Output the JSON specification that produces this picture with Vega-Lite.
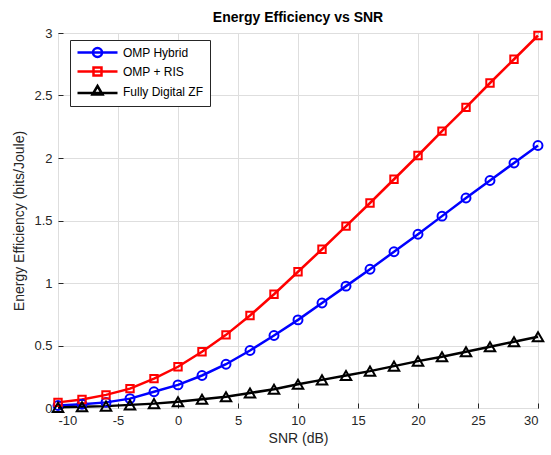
{
  "$schema": "https://vega.github.io/schema/vega-lite/v6.json",
  "width": 480,
  "height": 375,
  "autosize": "none",
  "padding": {"left": 58, "top": 33, "right": 13, "bottom": 47},
  "background": "white",
  "config": {
    "font": "Liberation Sans",
    "view": {"stroke": "#262626", "strokeWidth": 1}
  },
  "title": {"text": "Energy Efficiency vs SNR", "fontSize": 14, "fontWeight": "bold", "font": "Liberation Sans", "color": "#000000", "anchor": "middle", "offset": 2},
  "data": {"values": [
    {"snr": -10, "ee": 0.02, "method": "OMP Hybrid"},
    {"snr": -8, "ee": 0.03, "method": "OMP Hybrid"},
    {"snr": -6, "ee": 0.045, "method": "OMP Hybrid"},
    {"snr": -4, "ee": 0.075, "method": "OMP Hybrid"},
    {"snr": -2, "ee": 0.13, "method": "OMP Hybrid"},
    {"snr": 0, "ee": 0.185, "method": "OMP Hybrid"},
    {"snr": 2, "ee": 0.26, "method": "OMP Hybrid"},
    {"snr": 4, "ee": 0.35, "method": "OMP Hybrid"},
    {"snr": 6, "ee": 0.46, "method": "OMP Hybrid"},
    {"snr": 8, "ee": 0.58, "method": "OMP Hybrid"},
    {"snr": 10, "ee": 0.705, "method": "OMP Hybrid"},
    {"snr": 12, "ee": 0.84, "method": "OMP Hybrid"},
    {"snr": 14, "ee": 0.975, "method": "OMP Hybrid"},
    {"snr": 16, "ee": 1.11, "method": "OMP Hybrid"},
    {"snr": 18, "ee": 1.25, "method": "OMP Hybrid"},
    {"snr": 20, "ee": 1.39, "method": "OMP Hybrid"},
    {"snr": 22, "ee": 1.535, "method": "OMP Hybrid"},
    {"snr": 24, "ee": 1.68, "method": "OMP Hybrid"},
    {"snr": 26, "ee": 1.82, "method": "OMP Hybrid"},
    {"snr": 28, "ee": 1.96, "method": "OMP Hybrid"},
    {"snr": 30, "ee": 2.1, "method": "OMP Hybrid"},
    {"snr": -10, "ee": 0.045, "method": "OMP + RIS"},
    {"snr": -8, "ee": 0.068, "method": "OMP + RIS"},
    {"snr": -6, "ee": 0.105, "method": "OMP + RIS"},
    {"snr": -4, "ee": 0.155, "method": "OMP + RIS"},
    {"snr": -2, "ee": 0.235, "method": "OMP + RIS"},
    {"snr": 0, "ee": 0.33, "method": "OMP + RIS"},
    {"snr": 2, "ee": 0.45, "method": "OMP + RIS"},
    {"snr": 4, "ee": 0.585, "method": "OMP + RIS"},
    {"snr": 6, "ee": 0.74, "method": "OMP + RIS"},
    {"snr": 8, "ee": 0.91, "method": "OMP + RIS"},
    {"snr": 10, "ee": 1.09, "method": "OMP + RIS"},
    {"snr": 12, "ee": 1.27, "method": "OMP + RIS"},
    {"snr": 14, "ee": 1.455, "method": "OMP + RIS"},
    {"snr": 16, "ee": 1.64, "method": "OMP + RIS"},
    {"snr": 18, "ee": 1.83, "method": "OMP + RIS"},
    {"snr": 20, "ee": 2.02, "method": "OMP + RIS"},
    {"snr": 22, "ee": 2.215, "method": "OMP + RIS"},
    {"snr": 24, "ee": 2.405, "method": "OMP + RIS"},
    {"snr": 26, "ee": 2.6, "method": "OMP + RIS"},
    {"snr": 28, "ee": 2.79, "method": "OMP + RIS"},
    {"snr": 30, "ee": 2.98, "method": "OMP + RIS"},
    {"snr": -10, "ee": 0.005, "method": "Fully Digital ZF"},
    {"snr": -8, "ee": 0.01, "method": "Fully Digital ZF"},
    {"snr": -6, "ee": 0.015, "method": "Fully Digital ZF"},
    {"snr": -4, "ee": 0.025, "method": "Fully Digital ZF"},
    {"snr": -2, "ee": 0.035, "method": "Fully Digital ZF"},
    {"snr": 0, "ee": 0.05, "method": "Fully Digital ZF"},
    {"snr": 2, "ee": 0.07, "method": "Fully Digital ZF"},
    {"snr": 4, "ee": 0.09, "method": "Fully Digital ZF"},
    {"snr": 6, "ee": 0.12, "method": "Fully Digital ZF"},
    {"snr": 8, "ee": 0.15, "method": "Fully Digital ZF"},
    {"snr": 10, "ee": 0.19, "method": "Fully Digital ZF"},
    {"snr": 12, "ee": 0.225, "method": "Fully Digital ZF"},
    {"snr": 14, "ee": 0.26, "method": "Fully Digital ZF"},
    {"snr": 16, "ee": 0.295, "method": "Fully Digital ZF"},
    {"snr": 18, "ee": 0.335, "method": "Fully Digital ZF"},
    {"snr": 20, "ee": 0.375, "method": "Fully Digital ZF"},
    {"snr": 22, "ee": 0.41, "method": "Fully Digital ZF"},
    {"snr": 24, "ee": 0.45, "method": "Fully Digital ZF"},
    {"snr": 26, "ee": 0.49, "method": "Fully Digital ZF"},
    {"snr": 28, "ee": 0.53, "method": "Fully Digital ZF"},
    {"snr": 30, "ee": 0.57, "method": "Fully Digital ZF"}
  ]},
  "encoding": {
    "x": {
      "field": "snr", "type": "quantitative",
      "scale": {"domain": [-10, 30], "nice": false, "zero": false},
      "axis": {
        "title": "SNR (dB)", "values": [-10, -5, 0, 5, 10, 15, 20, 25, 30],
        "labelExpr": "'' + datum.value",
        "labelFontSize": 13, "labelColor": "#262626", "labelPadding": 11,
        "titleFontSize": 14, "titleFontWeight": "normal", "titleColor": "#262626", "titlePadding": 4,
        "domain": false, "tickSize": -5, "tickColor": "#262626",
        "grid": true, "gridColor": "#dedede", "gridWidth": 1
      }
    },
    "y": {
      "field": "ee", "type": "quantitative",
      "scale": {"domain": [0, 3], "nice": false},
      "axis": {
        "title": "Energy Efficiency (bits/Joule)", "values": [0, 0.5, 1, 1.5, 2, 2.5, 3], "format": "~g",
        "labelFontSize": 13, "labelColor": "#262626", "labelPadding": 11,
        "titleFontSize": 14, "titleFontWeight": "normal", "titleColor": "#262626", "titlePadding": 7,
        "domain": false, "tickSize": -5, "tickColor": "#262626",
        "grid": true, "gridColor": "#dedede", "gridWidth": 1
      }
    }
  },
  "layer": [
    {
      "mark": {"type": "line", "strokeWidth": 2.5},
      "encoding": {
        "color": {
          "field": "method", "type": "nominal",
          "scale": {"domain": ["OMP Hybrid", "OMP + RIS", "Fully Digital ZF"], "range": ["#0000ff", "#ff0000", "#000000"]},
          "legend": {
            "title": null, "orient": "none", "legendX": 12, "legendY": 7,
            "labelFontSize": 12, "labelColor": "#000000", "labelFont": "Liberation Sans",
            "strokeColor": "#262626", "fillColor": "white", "padding": 6,
            "rowPadding": 0, "symbolOffset": 15, "labelOffset": 19,
            "symbolStrokeWidth": 2.5, "symbolSize": 100, "symbolFillColor": "transparent",
            "encode": {
              "symbols": {
                "update": {
                  "shape": {"signal": "datum.value == 'OMP Hybrid' ? 'M-4,0L4,0M-0.9,0A0.9,0.9 0 1,0 0.9,0A0.9,0.9 0 1,0 -0.9,0Z' : datum.value == 'OMP + RIS' ? 'M-4,0L4,0M-0.8,-0.8L0.8,-0.8L0.8,0.8L-0.8,0.8Z' : 'M-4,0.3L4,0.3M0,-1.1L1,0.6L-1,0.6Z'"}
                }
              }
            }
          }
        }
      }
    },
    {
      "transform": [{"filter": "datum.method == 'OMP Hybrid'"}],
      "mark": {"type": "point", "shape": "circle", "filled": false, "color": "#0000ff", "strokeWidth": 2, "size": 80, "opacity": 1}
    },
    {
      "transform": [{"filter": "datum.method == 'OMP + RIS'"}],
      "mark": {"type": "point", "shape": "square", "filled": false, "color": "#ff0000", "strokeWidth": 2, "size": 55, "opacity": 1}
    },
    {
      "transform": [{"filter": "datum.method == 'Fully Digital ZF'"}],
      "mark": {"type": "point", "shape": "triangle-up", "filled": false, "color": "#000000", "strokeWidth": 2, "size": 110, "opacity": 1}
    }
  ]
}
